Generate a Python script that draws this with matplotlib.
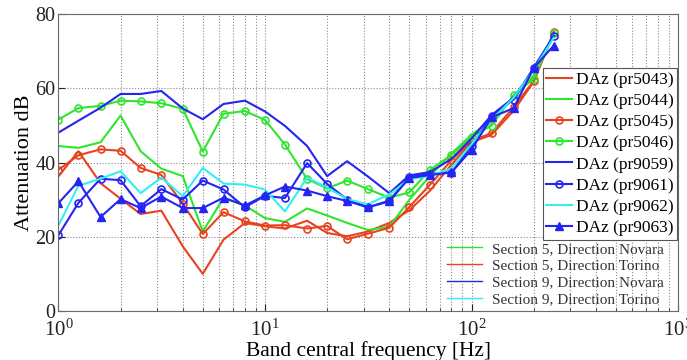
"""Attenuation spectra of the DAz measurement points (band central frequency)."""

import matplotlib

matplotlib.use("Agg")

import matplotlib.pyplot as plt
from matplotlib.lines import Line2D

plt.rcParams["font.family"] = ["Liberation Serif", "DejaVu Serif"]
plt.rcParams["mathtext.fontset"] = "stix"

# third-octave band centres [Hz]
freq_hz = [1, 1.25, 1.6, 2, 2.5, 3.15, 4, 5, 6.3, 8, 10, 12.5, 16, 20, 25,
           31.5, 40, 50, 63, 80, 100, 125, 160, 200, 250]

# attenuation [dB], one list per measurement point
pr5043 = [36.3, 43.1, 34.5, 30.3, 26.2, 27.1, 17.5, 10.1, 19.3, 23.8, 22.9, 22.3,
          24.4, 21.1, 20.2, 21.5, 23.8, 27.2, 32.5, 39.5, 45.5, 47.5, 54.0, 61.8, 75.0]
pr5044 = [44.5, 44.0, 45.5, 52.7, 43.1, 38.4, 36.4, 21.5, 30.5, 28.5, 25.1, 24.1,
          27.7, 25.8, 23.8, 21.9, 22.8, 30.0, 36.5, 42.5, 47.5, 51.5, 57.5, 63.5, 74.5]
pr5045 = [38.1, 42.0, 43.6, 43.2, 38.6, 36.7, 29.0, 20.8, 26.7, 24.2, 23.1, 23.2,
          22.3, 23.0, 19.4, 20.9, 22.5, 28.1, 34.1, 40.7, 45.8, 48.0, 55.0, 62.0, 75.2]
pr5046 = [51.6, 54.7, 55.3, 56.7, 56.5, 56.0, 54.5, 43.0, 53.2, 53.9, 51.5, 44.9,
          35.6, 33.1, 35.2, 32.9, 30.6, 32.0, 38.1, 42.1, 47.0, 50.0, 58.2, 62.6, 74.8]
pr9059 = [48.1, 51.3, 54.8, 58.5, 58.5, 59.3, 54.6, 51.7, 55.8, 56.7, 53.8, 49.9,
          44.5, 36.4, 40.4, 36.3, 31.8, 36.6, 37.5, 41.0, 46.5, 52.8, 57.5, 65.2, 74.0]
pr9061 = [20.5, 29.2, 35.7, 35.3, 28.3, 32.9, 30.1, 35.2, 32.8, 28.0, 31.1, 30.5,
          39.9, 34.3, 30.1, 28.0, 29.8, 36.2, 37.0, 37.3, 44.5, 52.6, 57.0, 65.6, 74.1]
pr9062 = [23.1, 33.8, 35.7, 37.7, 31.8, 36.0, 31.0, 38.6, 34.4, 34.1, 32.8, 26.9,
          36.0, 33.3, 30.2, 28.8, 31.5, 35.5, 36.5, 38.5, 45.0, 51.5, 57.5, 65.0, 73.6]
pr9063 = [29.1, 35.0, 25.4, 30.2, 27.8, 30.9, 27.8, 27.8, 30.6, 28.5, 31.2, 33.6,
          32.5, 31.0, 29.7, 28.0, 29.6, 35.9, 36.7, 37.4, 43.5, 52.2, 54.7, 65.5, 71.5]

section_labels = ["Section 5, Direction Novara", "Section 5, Direction Torino",
                  "Section 9, Direction Novara", "Section 9, Direction Torino"]

RED = "#e8431f"
GREEN = "#2ee62e"
BLUE = "#2525f2"
CYAN = "#30f0f5"

fig = plt.figure(figsize=(6.87, 3.6), dpi=100)
ax = fig.add_axes([0.085, 0.135, 0.902, 0.826])

lw = 1.5
series = [
    (pr5043, RED, None, "DAz (pr5043)"),
    (pr5044, GREEN, None, "DAz (pr5044)"),
    (pr5045, RED, "o", "DAz (pr5045)"),
    (pr5046, GREEN, "o", "DAz (pr5046)"),
    (pr9059, BLUE, None, "DAz (pr9059)"),
    (pr9061, BLUE, "o", "DAz (pr9061)"),
    (pr9062, CYAN, None, "DAz (pr9062)"),
    (pr9063, BLUE, "^", "DAz (pr9063)"),
]
handles = []
for values, color, marker, label in series:
    if marker == "^":
        (h,) = ax.plot(freq_hz, values, color=color, lw=lw, marker=marker,
                       ms=5.5, mfc=color, mec=color, label=label)
    elif marker == "o":
        (h,) = ax.plot(freq_hz, values, color=color, lw=lw, marker=marker,
                       ms=5, mfc="none", mec=color, mew=1.2, label=label)
    else:
        (h,) = ax.plot(freq_hz, values, color=color, lw=lw, label=label)
    handles.append(h)

ax.set_xscale("log")
ax.set_xlim(1, 1000)
ax.set_ylim(0, 80)
ax.set_yticks([0, 20, 40, 60, 80])
ax.grid(True, which="major", axis="both", color="#8a8a8a", ls=":", lw=0.8)
ax.grid(True, which="minor", axis="x", color="#8a8a8a", ls=":", lw=0.8)
ax.tick_params(which="both", direction="in", colors="#222222", length=5)
ax.tick_params(which="minor", length=2.5)
ax.tick_params(axis="y", labelsize=14.5, pad=2)
ax.tick_params(axis="x", labelsize=15, pad=6)
for s in ax.spines.values():
    s.set_color("#6a6a6a")

ax.set_xlabel("Band central frequency [Hz]", fontsize=15.5, labelpad=0)
ax.set_ylabel("Attenuation dB", fontsize=16, labelpad=1)

leg1 = ax.legend(handles=handles, loc="upper right", fontsize=12.5,
                 bbox_to_anchor=(0.9985, 0.818), frameon=True, fancybox=False,
                 edgecolor="#555555", framealpha=1, handlelength=1.45,
                 handletextpad=0.25, labelspacing=0.29, borderpad=0.2,
                 borderaxespad=0)
leg1.get_frame().set_linewidth(0.8)
ax.add_artist(leg1)

proxies = [Line2D([], [], color=c, lw=1.0) for c in (GREEN, RED, BLUE, CYAN)]
leg2 = ax.legend(proxies, section_labels, loc="lower right", fontsize=11,
                 bbox_to_anchor=(0.99, -0.01), frameon=False,
                 handlelength=2.3, handletextpad=0.65, labelspacing=0.2,
                 borderaxespad=0.15)
for t in leg2.get_texts():
    t.set_color("#333333")

fig.savefig("out.png", dpi=100)
